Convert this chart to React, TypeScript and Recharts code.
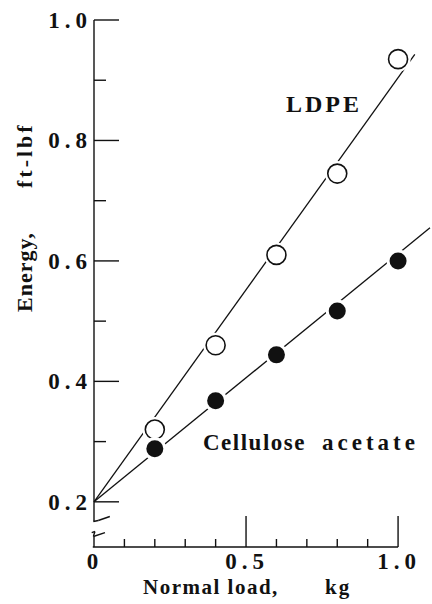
import { ComposedChart, Line, ReferenceLine, Scatter, XAxis, YAxis } from 'recharts'

const loads = [0.2, 0.4, 0.6, 0.8, 1.0]
const ldpeEnergy = [0.32, 0.46, 0.61, 0.745, 0.935]
const celluloseEnergy = [0.288, 0.368, 0.444, 0.517, 0.6]

// fitted straight lines, both starting at 0.2 on the broken energy axis
const ldpeFitLoads = [0, 1.055]
const ldpeFitEnergy = [0.2, 0.943]
const celluloseFitLoads = [0, 1.105]
const celluloseFitEnergy = [0.2, 0.655]

const xTicks = [0, 0.1, 0.2, 0.3, 0.4, 0.5, 0.6, 0.7, 0.8, 0.9, 1.0]
const xTickLabels = new Map<number, string>([[0, '0'], [0.5, '0.5'], [1, '1.0']])
const yTicks = [0.2, 0.3, 0.4, 0.5, 0.6, 0.7, 0.8, 0.9, 1.0]
const yTickLabels = new Map<number, string>([[0.2, '0.2'], [0.4, '0.4'], [0.6, '0.6'], [0.8, '0.8'], [1, '1.0']])

// axis lines and the break marks on the energy axis, in data units
const axisSegments: [number, number][][] = [
  [[0, 1.0], [0, 0.1673]],
  [[-0.002, 0.1673], [0.014, 0.169]],
  [[0.014, 0.169], [0.052, 0.1756]],
  [[-0.0075, 0.149], [0.003, 0.1507]],
  [[0.003, 0.1507], [-0.002, 0.1424]],
  [[-0.002, 0.1424], [0.036, 0.149]],
  [[0, 0.1424], [0, 0.125]],
  [[-0.004, 0.125], [1.0, 0.125]],
]

const toPoints = (xs: number[], ys: number[]) => xs.map((x, i) => ({ x, y: ys[i] }))

const serif = '"Liberation Serif", "Times New Roman", serif'
const ink = '#111'

function XTick({ x, y, payload }: any) {
  const v = payload.value as number
  const label = xTickLabels.get(v)
  const len = v === 0 ? 0 : label ? 31 : 8
  return (
    <g>
      {len > 0 && <line x1={x} x2={x} y1={y} y2={y - len} stroke={ink} strokeWidth={1.4} />}
      {label && (
        <text x={x + 1} y={y + 22} textAnchor="middle" fontFamily={serif} fontWeight="bold" fontSize={23} letterSpacing={5} fill={ink}>
          {label}
        </text>
      )}
    </g>
  )
}

function YTick({ x, y, payload }: any) {
  const v = payload.value as number
  const label = yTickLabels.get(v)
  const len = label ? 25 : 12
  return (
    <g>
      <line x1={x} x2={x + len} y1={y} y2={y} stroke={ink} strokeWidth={1.4} />
      {label && (
        <text x={x - 2} y={y + 8} textAnchor="end" fontFamily={serif} fontWeight="bold" fontSize={23} letterSpacing={5} fill={ink}>
          {label}
        </text>
      )}
    </g>
  )
}

const OpenCircle = ({ cx, cy }: any) => (
  <g>
    <circle cx={cx} cy={cy} r={12.5} fill="#fff" />
    <circle cx={cx} cy={cy} r={9.5} fill="#fff" stroke={ink} strokeWidth={1.6} />
  </g>
)

const FilledCircle = ({ cx, cy }: any) => (
  <g>
    <circle cx={cx} cy={cy} r={11.5} fill="#fff" />
    <circle cx={cx} cy={cy} r={8.5} fill={ink} />
  </g>
)

export default function App() {
  return (
    <div style={{ position: 'absolute', left: 0, top: 0, width: 432, height: 604, background: '#fff' }}>
      <ComposedChart width={432} height={604} margin={{ top: 20, right: 2, bottom: 17, left: 34 }}>
        <XAxis
          type="number"
          dataKey="x"
          domain={[0, 1.1]}
          ticks={xTicks}
          interval={0}
          axisLine={false}
          tickLine={false}
          tickSize={0}
          tickMargin={0}
          height={40}
          tick={<XTick />}
        />
        <YAxis
          type="number"
          dataKey="y"
          domain={[0.125, 1.0]}
          ticks={yTicks}
          interval={0}
          axisLine={false}
          tickLine={false}
          tickSize={0}
          tickMargin={0}
          width={60}
          tick={<YTick />}
        />
        {axisSegments.map((s, i) => (
          <ReferenceLine
            key={i}
            segment={[{ x: s[0][0], y: s[0][1] }, { x: s[1][0], y: s[1][1] }]}
            stroke={ink}
            strokeWidth={1.4}
            ifOverflow="visible"
          />
        ))}
        <Line data={toPoints(ldpeFitLoads, ldpeFitEnergy)} dataKey="y" type="linear" stroke={ink} strokeWidth={1.3} dot={false} isAnimationActive={false} />
        <Line data={toPoints(celluloseFitLoads, celluloseFitEnergy)} dataKey="y" type="linear" stroke={ink} strokeWidth={1.3} dot={false} isAnimationActive={false} />
        <Scatter data={toPoints(loads, ldpeEnergy)} dataKey="y" shape={<OpenCircle />} isAnimationActive={false} />
        <Scatter data={toPoints(loads, celluloseEnergy)} dataKey="y" shape={<FilledCircle />} isAnimationActive={false} />
        <text x={286} y={112} fontFamily={serif} fontWeight="bold" fontSize={24} letterSpacing={3} fill={ink}>LDPE</text>
        <text x={203} y={450} fontFamily={serif} fontWeight="bold" fontSize={23} letterSpacing={1.5} fill={ink}>Cellulose</text>
        <text x={322} y={450} fontFamily={serif} fontWeight="bold" fontSize={23} letterSpacing={4} fill={ink}>acetate</text>
        <text x={143} y={594} fontFamily={serif} fontWeight="bold" fontSize={21} letterSpacing={1.5} fill={ink}>Normal load,</text>
        <text x={325} y={594} fontFamily={serif} fontWeight="bold" fontSize={21} letterSpacing={2} fill={ink}>kg</text>
        <text x={32} y={312} transform="rotate(-90 32 312)" fontFamily={serif} fontWeight="bold" fontSize={22} letterSpacing={1} fill={ink}>Energy,</text>
        <text x={32} y={188} transform="rotate(-90 32 188)" fontFamily={serif} fontWeight="bold" fontSize={22} letterSpacing={3} fill={ink}>ft-lbf</text>
      </ComposedChart>
    </div>
  )
}
